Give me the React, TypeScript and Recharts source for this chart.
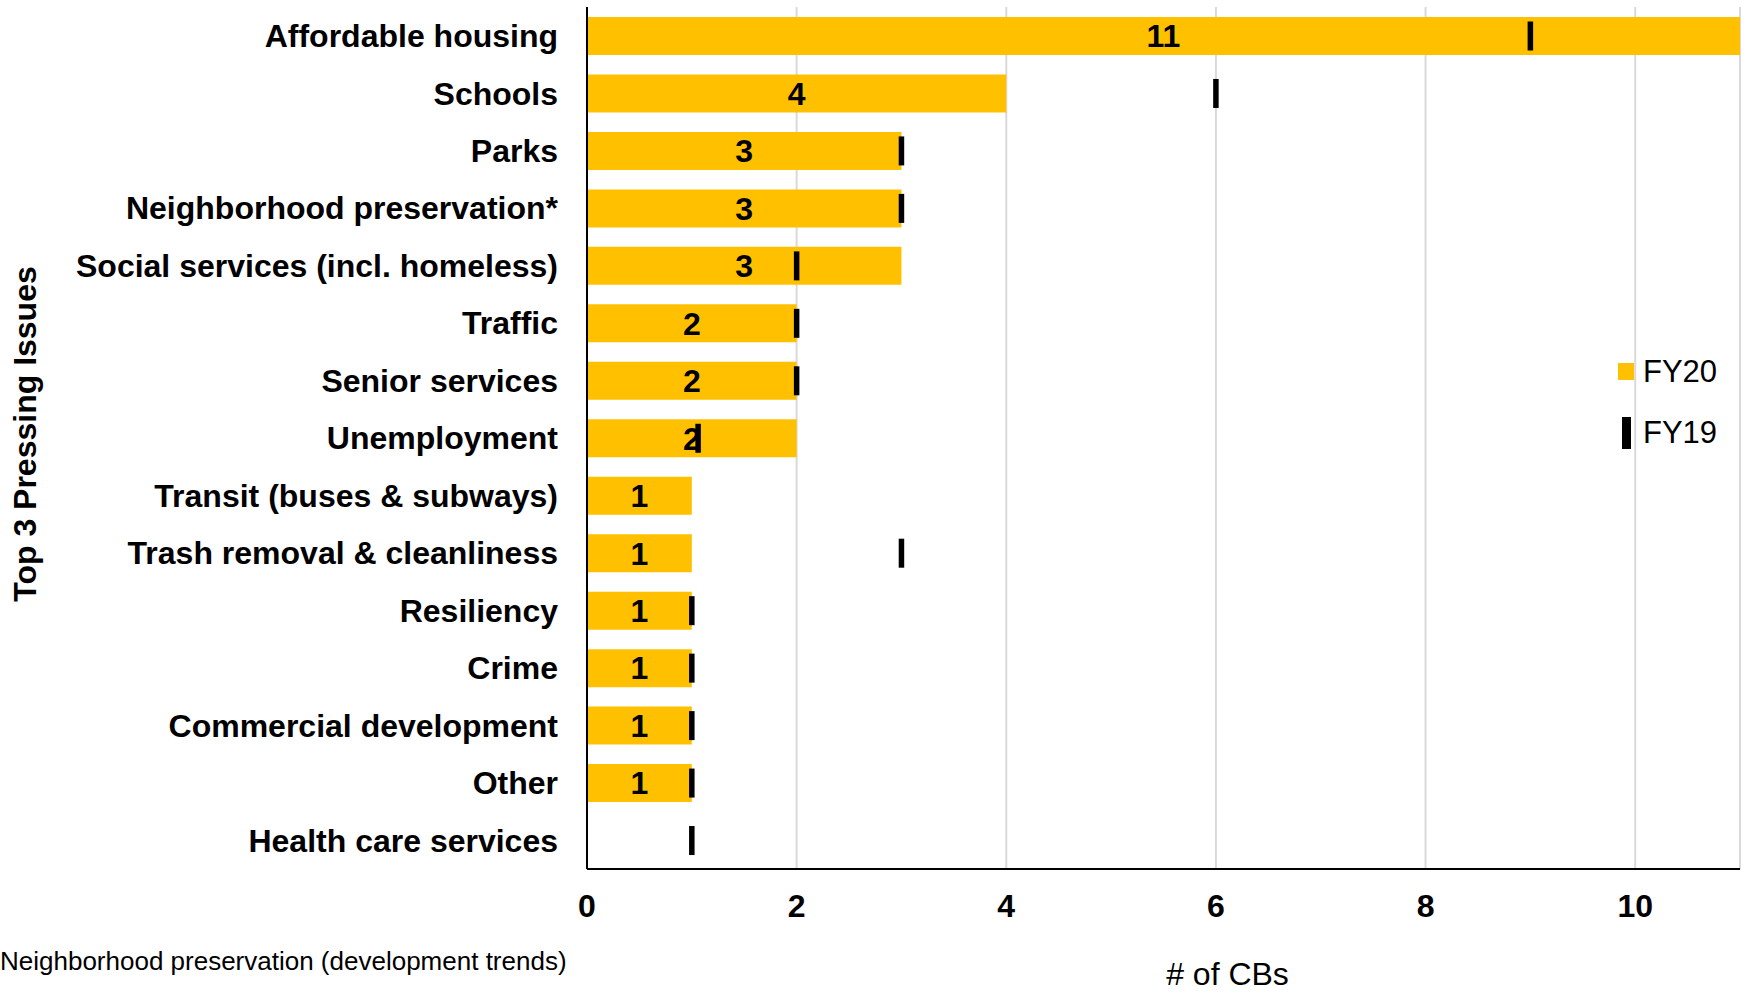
import React from "react"
import {
  BarChart,
  Bar,
  XAxis,
  YAxis,
  CartesianGrid,
  Legend,
  LabelList,
} from "recharts"

const categories = [
  "Affordable housing",
  "Schools",
  "Parks",
  "Neighborhood preservation*",
  "Social services (incl. homeless)",
  "Traffic",
  "Senior services",
  "Unemployment",
  "Transit (buses & subways)",
  "Trash removal & cleanliness",
  "Resiliency",
  "Crime",
  "Commercial development",
  "Other",
  "Health care services",
]

const fy20 = [11, 4, 3, 3, 3, 2, 2, 2, 1, 1, 1, 1, 1, 1, null]
const fy19 = [9, 6, 3, 3, 2, 2, 2, 1.06, null, 3, 1, 1, 1, 1, 1]
const xTicks = [0, 2, 4, 6, 8, 10]

const data = categories.map((name, i) => ({
  name,
  fy20: fy20[i],
  fy19: fy19[i],
}))

const YELLOW = "#FFC000"
const FONT = "'Liberation Sans', Arial, sans-serif"

// FY19 is drawn as a thin black tick at the end of an invisible bar
const Fy19Mark = (props: any) => {
  const { x, y, width, height, value } = props
  if (value == null) return null
  const cx = x + width
  const cy = y + height / 2
  return <rect x={cx - 2.75} y={cy - 14.5} width={5.5} height={29} fill="#000" />
}

const renderLegend = (props: any) => {
  const payload = [...(props.payload || [])].sort((a: any, b: any) =>
    a.dataKey === "fy20" ? -1 : b.dataKey === "fy20" ? 1 : 0
  )
  return (
    <div style={{ fontFamily: FONT, fontSize: 31, color: "#000" }}>
      {payload.map((entry: any) => (
        <div
          key={entry.value}
          style={{ display: "flex", alignItems: "center", height: 61 }}
        >
          <div style={{ width: 16, display: "flex", justifyContent: "center" }}>
            {entry.dataKey === "fy20" ? (
              <div style={{ width: 16, height: 17, background: YELLOW }} />
            ) : (
              <div style={{ width: 9, height: 32, background: "#000" }} />
            )}
          </div>
          <span style={{ marginLeft: 9 }}>{entry.value}</span>
        </div>
      ))}
    </div>
  )
}

export default function App() {
  return (
    <div
      style={{
        position: "absolute",
        left: 0,
        top: 0,
        width: 1748,
        height: 996,
        background: "#fff",
        fontFamily: FONT,
        overflow: "hidden",
      }}
    >
      <BarChart
        width={1748}
        height={996}
        data={data}
        layout="vertical"
        margin={{ top: 7, right: 8, bottom: 0, left: 0 }}
        barSize={38}
        barGap={-38}
      >
        <CartesianGrid horizontal={false} stroke="#D9D9D9" strokeWidth={2} />
        <XAxis
          type="number"
          domain={[0, 11]}
          ticks={xTicks}
          height={127}
          tickLine={false}
          tickSize={0}
          tickMargin={25}
          axisLine={{ stroke: "#000", strokeWidth: 2 }}
          tick={{ fill: "#000", fontSize: 32, fontWeight: "bold" }}
          label={{
            value: "# of CBs",
            position: "insideBottom",
            offset: 11,
            dx: 64,
            fill: "#000",
            fontSize: 32,
          }}
        />
        <YAxis
          type="category"
          dataKey="name"
          width={587}
          interval={0}
          tickLine={false}
          tickSize={0}
          tickMargin={29}
          axisLine={{ stroke: "#000", strokeWidth: 2 }}
          tick={{ fill: "#000", fontSize: 32, fontWeight: "bold" }}
          label={{
            value: "Top 3 Pressing Issues",
            content: ({ viewBox }: any) => {
              const cx = 25
              const cy = viewBox.y + viewBox.height / 2 - 4
              return (
                <text
                  x={cx}
                  y={cy}
                  transform={`rotate(-90, ${cx}, ${cy})`}
                  textAnchor="middle"
                  dominantBaseline="central"
                  fontSize={32}
                  fontWeight="bold"
                  fill="#000"
                >
                  Top 3 Pressing Issues
                </text>
              )
            },
          }}
        />
        <Legend
          layout="horizontal"
          verticalAlign="middle"
          align="center"
          content={renderLegend}
          wrapperStyle={{ left: 1618, top: 341, width: "auto" }}
        />
        <Bar dataKey="fy20" name="FY20" fill={YELLOW} isAnimationActive={false}>
          <LabelList
            dataKey="fy20"
            position="center"
            fill="#000"
            fontSize={32}
            fontWeight="bold"
          />
        </Bar>
        <Bar
          dataKey="fy19"
          name="FY19"
          fill="#000"
          shape={Fy19Mark}
          isAnimationActive={false}
        />
      </BarChart>
      <div
        style={{
          position: "absolute",
          left: 0,
          top: 948,
          fontSize: 26,
          lineHeight: "26px",
          whiteSpace: "nowrap",
          color: "#000",
        }}
      >
        Neighborhood preservation (development trends)
      </div>
    </div>
  )
}
